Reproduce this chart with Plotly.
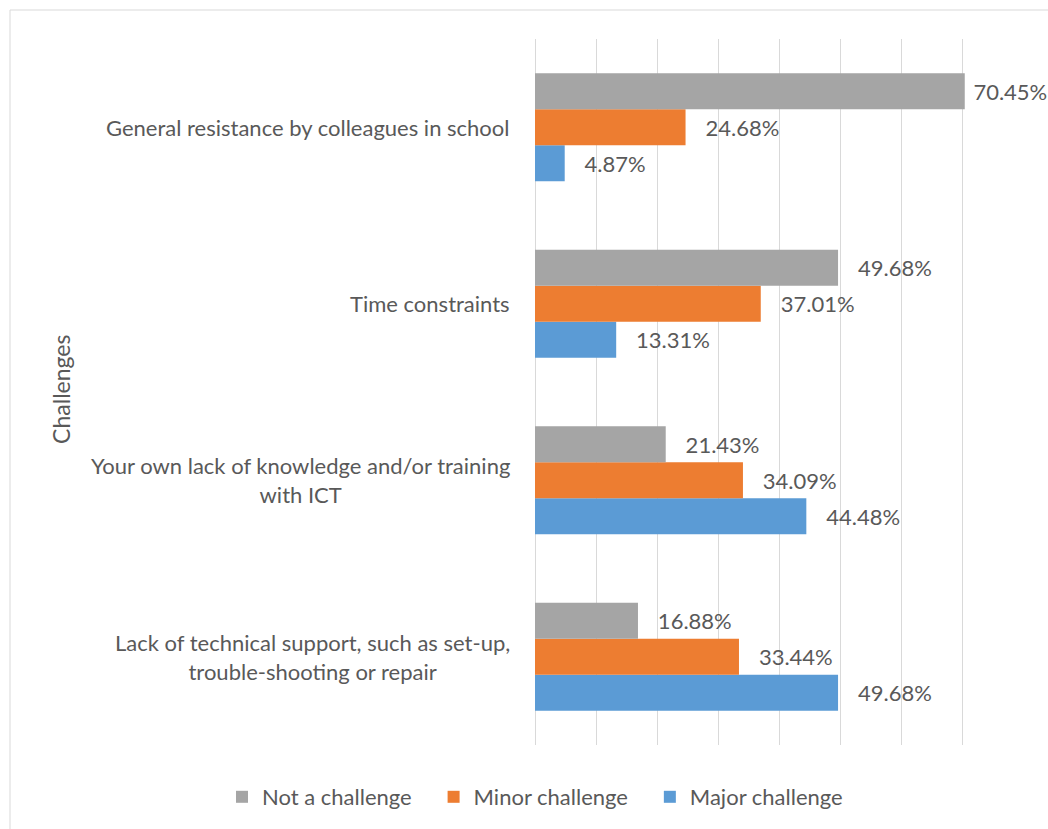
import plotly.graph_objects as go

# Data (bottom to top order of categories)
categories = [
    "Lack of technical support, such as set-up,<br>trouble-shooting or repair",
    "Your own lack of knowledge and/or training<br>with ICT",
    "Time constraints",
    "General resistance by colleagues in school",
]
not_a_challenge = [16.88, 21.43, 49.68, 70.45]
minor_challenge = [33.44, 34.09, 37.01, 24.68]
major_challenge = [49.68, 44.48, 13.31, 4.87]

series_names = ["Major challenge", "Minor challenge", "Not a challenge"]
series_values = [major_challenge, minor_challenge, not_a_challenge]
series_colors = ["#5B9BD5", "#ED7D31", "#A5A5A5"]

FONT = "Lato, Carlito, 'Open Sans', sans-serif"
TXT = "#595959"
FS = 22

W, H = 1048, 829
L, R, T, B = 535, 25, 39, 84
XMAX = 80


def label(v):
    # keep the label inside the chart when the bar is near the right edge
    pad = "\u00a0" if v > 0.8 * XMAX else "\u00a0\u00a0\u00a0"
    return pad + "%.2f%%" % v


fig = go.Figure()
for name, vals, col in zip(series_names, series_values, series_colors):
    fig.add_trace(go.Bar(
        y=categories, x=vals, name=name + "\u00a0\u00a0\u00a0", orientation="h",
        marker=dict(color=col, line=dict(width=0)),
        text=[label(v) for v in vals],
        textposition="outside", cliponaxis=False,
        textfont=dict(family=FONT, size=FS, color=TXT),
        hovertemplate="%{x:.2f}%<extra>" + name + "</extra>",
    ))

# category labels as annotations (centered multi-line)
for c in categories:
    fig.add_annotation(x=-0.047, xref="paper", y=c, yref="y", text=c,
                       showarrow=False, xanchor="right", yanchor="middle",
                       align="center", font=dict(family=FONT, size=FS, color=TXT))

# y axis title
plot_h = H - T - B
plot_w = W - L - R
fig.add_annotation(x=(61 - L) / plot_w, xref="paper", y=0.503, yref="paper",
                   text="Challenges", textangle=-90, showarrow=False,
                   xanchor="center", yanchor="middle",
                   font=dict(family=FONT, size=23, color=TXT))

# chart border
fig.add_shape(type="rect", xref="paper", yref="paper",
              x0=(10 - L) / plot_w, x1=1.2, y0=-0.3,
              y1=(H - B - 10) / plot_h,
              line=dict(color="#D9D9D9", width=1), layer="below")

fig.update_layout(
    width=W, height=H,
    margin=dict(l=L, r=R, t=T, b=B, pad=0, autoexpand=False),
    barmode="group", bargap=0.388, bargroupgap=0.0,
    plot_bgcolor="white", paper_bgcolor="white",
    font=dict(family=FONT, size=FS, color=TXT),
    showlegend=True,
    legend=dict(orientation="h", traceorder="reversed",
                xref="paper", yref="paper",
                x=(222 - L) / plot_w, xanchor="left",
                y=-(797 - (H - B)) / plot_h, yanchor="middle",
                font=dict(family=FONT, size=FS, color=TXT),
                itemwidth=30),
    xaxis=dict(range=[0, XMAX], dtick=10, showticklabels=False,
               showgrid=True, gridcolor="#D9D9D9", gridwidth=1,
               zeroline=True, zerolinecolor="#D9D9D9", zerolinewidth=1,
               showline=False, fixedrange=True),
    yaxis=dict(categoryorder="array", categoryarray=categories,
               showticklabels=False, showgrid=False, showline=False,
               zeroline=False, fixedrange=True),
)

fig.write_html("out.html", config={"displayModeBar": False},
               post_script="document.body.style.margin='0px';")
